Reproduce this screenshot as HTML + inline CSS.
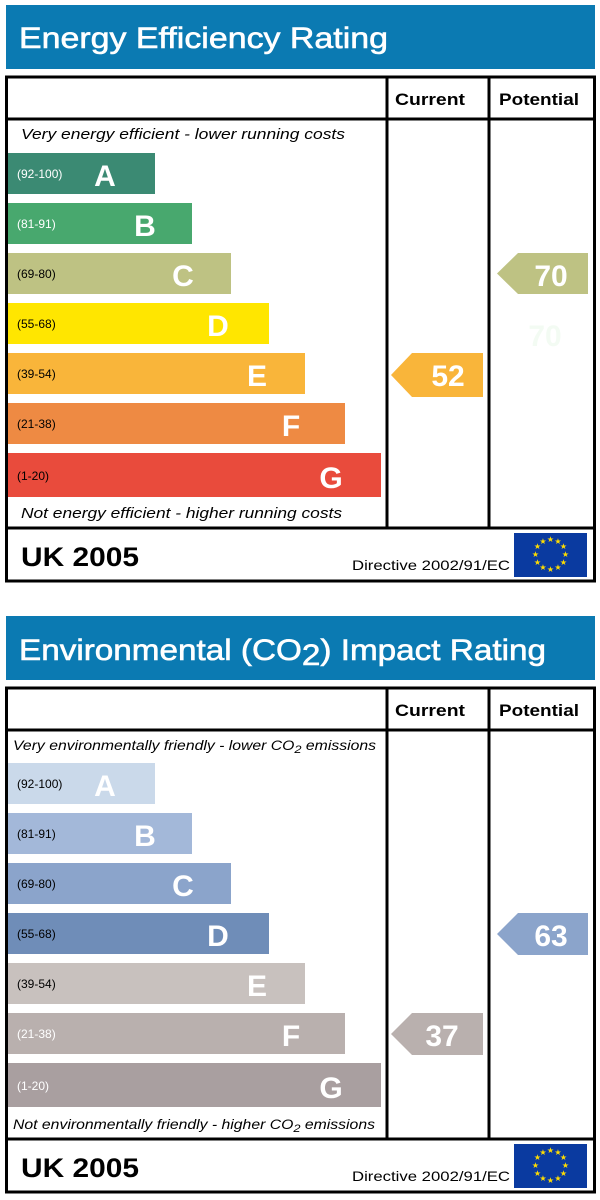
<!DOCTYPE html>
<html><head><meta charset="utf-8"><style>
body{margin:0;background:#fff;width:600px;height:1200px;overflow:hidden}
svg{display:block}
text{font-family:"Liberation Sans",sans-serif}
</style></head><body>
<svg width="600" height="1200" viewBox="0 0 600 1200" xmlns="http://www.w3.org/2000/svg">
<defs>
<g id="eu">
<rect x="0" y="0" width="73" height="44" fill="#0a3aa0"/>
<g fill="#ffdd00" font-size="8" text-anchor="middle">
<text x="36.5" y="9">★</text><text x="44" y="11">★</text><text x="49.5" y="16">★</text><text x="51.5" y="24">★</text><text x="49.5" y="32">★</text><text x="44" y="37">★</text><text x="36.5" y="39">★</text><text x="29" y="37">★</text><text x="23.5" y="32">★</text><text x="21.5" y="24">★</text><text x="23.5" y="16">★</text><text x="29" y="11">★</text>
</g>
</g>
</defs>

<!-- SECTION 1 -->
<rect x="6" y="5" width="589" height="64" fill="#0b7ab2"/>
<text x="19" y="48" fill="#fff" font-size="30" stroke="#fff" stroke-width="0.6" textLength="369" lengthAdjust="spacingAndGlyphs">Energy Efficiency Rating</text>
<rect x="6.5" y="77" width="588" height="504" fill="none" stroke="#000" stroke-width="3"/>
<line x1="6" y1="119" x2="595" y2="119" stroke="#000" stroke-width="3"/>
<line x1="387" y1="77" x2="387" y2="528" stroke="#000" stroke-width="3"/>
<line x1="489" y1="77" x2="489" y2="528" stroke="#000" stroke-width="3"/>
<line x1="6" y1="528" x2="595" y2="528" stroke="#000" stroke-width="3"/>
<text x="395" y="105" font-size="17" font-weight="bold" textLength="70" lengthAdjust="spacingAndGlyphs">Current</text>
<text x="499" y="105" font-size="17" font-weight="bold" textLength="80" lengthAdjust="spacingAndGlyphs">Potential</text>
<text x="21" y="139" font-size="15" font-style="italic" textLength="324" lengthAdjust="spacingAndGlyphs">Very energy efficient - lower running costs</text>
<text x="21" y="518" font-size="15" font-style="italic" textLength="321" lengthAdjust="spacingAndGlyphs">Not energy efficient - higher running costs</text>
<g font-size="12">
<rect x="8" y="153" width="147" height="41" fill="#3b8a73"/><text x="17" y="178" fill="#fff">(92-100)</text><text x="105" y="186" fill="#fff" font-size="30" font-weight="bold" text-anchor="middle">A</text>
<rect x="8" y="203" width="184" height="41" fill="#48a86e"/><text x="17" y="228" fill="#fff">(81-91)</text><text x="145" y="236" fill="#fff" font-size="30" font-weight="bold" text-anchor="middle">B</text>
<rect x="8" y="253" width="223" height="41" fill="#bec283"/><text x="17" y="278">(69-80)</text><text x="183" y="286" fill="#fff" font-size="30" font-weight="bold" text-anchor="middle">C</text>
<rect x="8" y="303" width="261" height="41" fill="#ffe600"/><text x="17" y="328">(55-68)</text><text x="218" y="336" fill="#fff" font-size="30" font-weight="bold" text-anchor="middle">D</text>
<rect x="8" y="353" width="297" height="41" fill="#f9b53a"/><text x="17" y="378">(39-54)</text><text x="257" y="386" fill="#fff" font-size="30" font-weight="bold" text-anchor="middle">E</text>
<rect x="8" y="403" width="337" height="41" fill="#ee8a43"/><text x="17" y="428">(21-38)</text><text x="291" y="436" fill="#fff" font-size="30" font-weight="bold" text-anchor="middle">F</text>
<rect x="8" y="453" width="373" height="44" fill="#e94b3c"/><text x="17" y="480">(1-20)</text><text x="331" y="488" fill="#fff" font-size="30" font-weight="bold" text-anchor="middle">G</text>
</g>
<polygon points="497,273.5 518,253 588,253 588,294 518,294" fill="#bec283"/>
<text x="551" y="286" fill="#fff" font-size="30" font-weight="bold" text-anchor="middle">70</text>
<text x="545" y="346" fill="#f3fbf3" font-size="30" font-weight="bold" text-anchor="middle">70</text>
<polygon points="391,375 412,353 483,353 483,397 412,397" fill="#f9b53a"/>
<text x="448" y="386" fill="#fff" font-size="30" font-weight="bold" text-anchor="middle">52</text>
<text x="21" y="566" font-size="27" font-weight="bold" textLength="118" lengthAdjust="spacingAndGlyphs">UK 2005</text>
<text x="352" y="570" font-size="14" textLength="158" lengthAdjust="spacingAndGlyphs">Directive 2002/91/EC</text>
<use href="#eu" x="514" y="533"/>

<!-- SECTION 2 -->
<rect x="6" y="616" width="589" height="64" fill="#0b7ab2"/>
<text x="19" y="660" fill="#fff" font-size="30" stroke="#fff" stroke-width="0.6" textLength="527" lengthAdjust="spacingAndGlyphs">Environmental (CO<tspan dy="5">2</tspan><tspan dy="-5">) Impact Rating</tspan></text>
<rect x="6.5" y="688" width="588" height="504" fill="none" stroke="#000" stroke-width="3"/>
<line x1="6" y1="730" x2="595" y2="730" stroke="#000" stroke-width="3"/>
<line x1="387" y1="688" x2="387" y2="1139" stroke="#000" stroke-width="3"/>
<line x1="489" y1="688" x2="489" y2="1139" stroke="#000" stroke-width="3"/>
<line x1="6" y1="1139" x2="595" y2="1139" stroke="#000" stroke-width="3"/>
<text x="395" y="716" font-size="17" font-weight="bold" textLength="70" lengthAdjust="spacingAndGlyphs">Current</text>
<text x="499" y="716" font-size="17" font-weight="bold" textLength="80" lengthAdjust="spacingAndGlyphs">Potential</text>
<text x="13" y="750" font-size="13.5" font-style="italic" textLength="363" lengthAdjust="spacingAndGlyphs">Very environmentally friendly - lower CO<tspan font-size="11" dy="3">2</tspan><tspan dy="-3"> emissions</tspan></text>
<text x="13" y="1129" font-size="13.5" font-style="italic" textLength="362" lengthAdjust="spacingAndGlyphs">Not environmentally friendly - higher CO<tspan font-size="11" dy="3">2</tspan><tspan dy="-3"> emissions</tspan></text>
<g font-size="12">
<rect x="8" y="763" width="147" height="41" fill="#cad9ea"/><text x="17" y="788">(92-100)</text><text x="105" y="796" fill="#fff" font-size="30" font-weight="bold" text-anchor="middle">A</text>
<rect x="8" y="813" width="184" height="41" fill="#a3b8d9"/><text x="17" y="838">(81-91)</text><text x="145" y="846" fill="#fff" font-size="30" font-weight="bold" text-anchor="middle">B</text>
<rect x="8" y="863" width="223" height="41" fill="#8ba4cb"/><text x="17" y="888">(69-80)</text><text x="183" y="896" fill="#fff" font-size="30" font-weight="bold" text-anchor="middle">C</text>
<rect x="8" y="913" width="261" height="41" fill="#6f8db8"/><text x="17" y="938">(55-68)</text><text x="218" y="946" fill="#fff" font-size="30" font-weight="bold" text-anchor="middle">D</text>
<rect x="8" y="963" width="297" height="41" fill="#c8c1be"/><text x="17" y="988">(39-54)</text><text x="257" y="996" fill="#fff" font-size="30" font-weight="bold" text-anchor="middle">E</text>
<rect x="8" y="1013" width="337" height="41" fill="#b9b0ae"/><text x="17" y="1038" fill="#fff">(21-38)</text><text x="291" y="1046" fill="#fff" font-size="30" font-weight="bold" text-anchor="middle">F</text>
<rect x="8" y="1063" width="373" height="44" fill="#a99fa0"/><text x="17" y="1090" fill="#fff">(1-20)</text><text x="331" y="1098" fill="#fff" font-size="30" font-weight="bold" text-anchor="middle">G</text>
</g>
<polygon points="497,934 518,913 588,913 588,955 518,955" fill="#8ba4cb"/>
<text x="551" y="946" fill="#fff" font-size="30" font-weight="bold" text-anchor="middle">63</text>
<polygon points="391,1034 412,1013 483,1013 483,1055 412,1055" fill="#b9b0ae"/>
<text x="442" y="1046" fill="#fff" font-size="30" font-weight="bold" text-anchor="middle">37</text>
<text x="21" y="1177" font-size="27" font-weight="bold" textLength="118" lengthAdjust="spacingAndGlyphs">UK 2005</text>
<text x="352" y="1181" font-size="14" textLength="158" lengthAdjust="spacingAndGlyphs">Directive 2002/91/EC</text>
<use href="#eu" x="514" y="1144"/>
</svg>
</body></html>
